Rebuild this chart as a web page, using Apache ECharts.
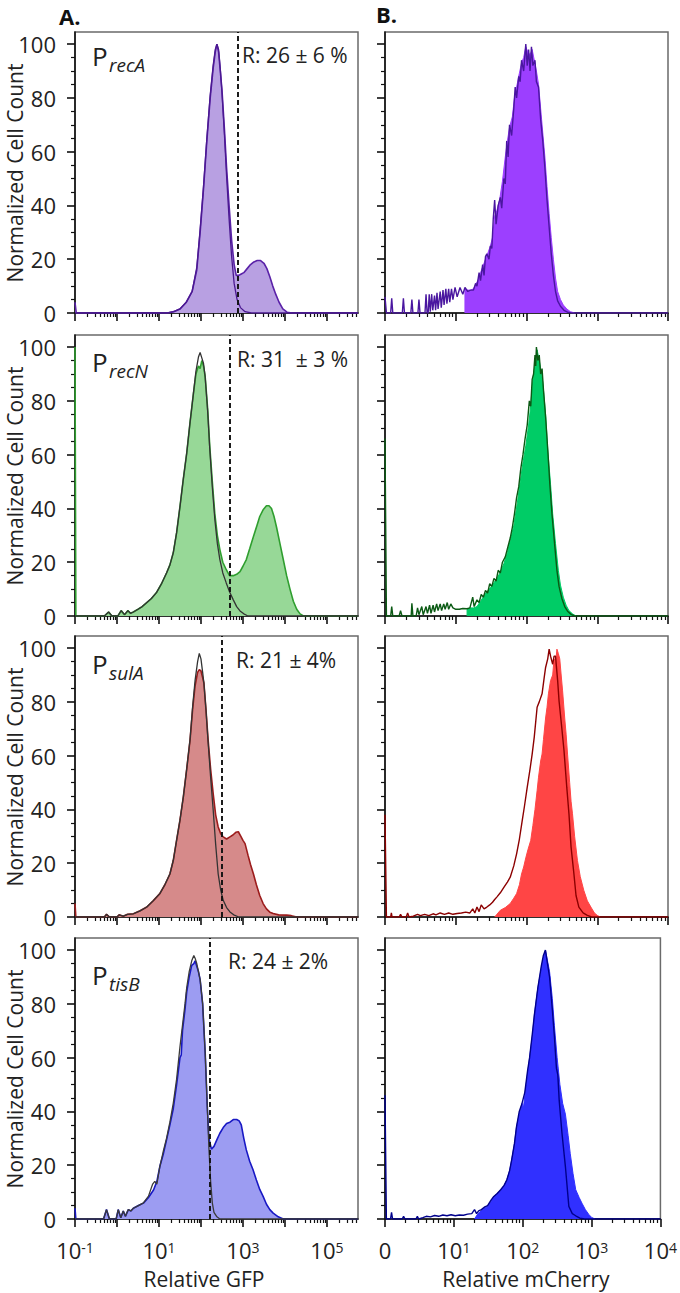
<!DOCTYPE html>
<html><head><meta charset="utf-8">
<script src="https://cdn.jsdelivr.net/npm/echarts@6/dist/echarts.min.js"></script>
<style>html,body{margin:0;padding:0;background:#fff}#c{width:680px;height:1293px}</style>
</head><body><div id="c"></div>
<script>
// ---------------- DATA ----------------
const promoters = ['recA', 'recN', 'sulA', 'tisB'];
const ratioLabels = ['R: 26 \u00b1 6 %', 'R: 31  \u00b1 3 %', 'R: 21 \u00b1 4%', 'R: 24 \u00b1 2%'];
const gateLog = [2.88, 2.69, 2.5, 2.21];            // log10 GFP gate positions
const yTicks = [0, 20, 40, 60, 80, 100];
const yMinorTicks = [5, 10, 15, 25, 30, 35, 45, 50, 55, 65, 70, 75, 85, 90, 95];
const gfpMajorTicks = [-1, 0, 1, 2, 3, 4, 5];
const gfpLabelTicks = [-1, 1, 3, 5];
const cherryMajorTicks = [0, 1, 2, 3, 4];
const cherryLabelTicks = [0, 1, 2, 3, 4];
const minorFactors = [2, 3, 4, 5, 6, 7, 8, 9];

// GFP histograms: [log10 GFP, normalized count]
const gfpRecA_sample = [[-1,4],[-0.97,0],[1.2,0],[1.35,0.5],[1.5,1.5],[1.65,4],[1.79,8],[1.9,16],[1.98,30],[2.06,46],[2.14,64],[2.22,80],[2.29,91],[2.34,97],[2.38,100],[2.42,97],[2.46,90],[2.5,83],[2.56,68],[2.61,54],[2.67,40],[2.73,27],[2.79,18],[2.84,14],[2.9,14],[2.96,14.5],[3.02,15],[3.1,16.5],[3.18,18],[3.26,19],[3.34,19.5],[3.42,19.5],[3.5,18.5],[3.57,16.5],[3.64,13.5],[3.71,10],[3.78,7],[3.86,4],[3.95,1.5],[4.05,0.3],[4.17,0],[5.74,0]];
const gfpRecA_control = [[-1,0],[1.2,0],[1.35,0.5],[1.5,1.5],[1.65,4],[1.79,8],[1.9,17],[1.98,31],[2.06,47],[2.14,65],[2.22,81],[2.29,92],[2.34,98],[2.38,100],[2.42,98],[2.46,91],[2.5,82],[2.56,66],[2.61,51],[2.67,35],[2.73,21],[2.79,11],[2.86,5],[2.94,2],[3.05,0.5],[3.2,0],[5.74,0]];
const gfpRecN_sample = [[-1,100],[-0.98,0],[-0.3,0],[-0.2,1.5],[-0.12,0],[0.02,0],[0.1,2],[0.18,0.5],[0.26,2],[0.32,1],[0.39,1.5],[0.5,2.5],[0.6,3.5],[0.71,5],[0.82,6.5],[0.94,8.7],[1.06,12],[1.18,16],[1.26,19],[1.34,23.5],[1.42,31],[1.5,40.7],[1.58,51],[1.66,60.5],[1.74,72],[1.82,82.7],[1.88,90],[1.94,93],[1.98,92],[2.02,95],[2.06,93],[2.1,89],[2.16,77],[2.21,63],[2.27,50],[2.33,38],[2.39,30],[2.45,24.7],[2.52,20],[2.6,17.3],[2.68,15],[2.77,15],[2.85,15.5],[2.93,16.5],[3.0,18.5],[3.08,21],[3.16,25],[3.25,29.6],[3.33,33.5],[3.4,37],[3.48,39.5],[3.56,41],[3.62,41],[3.68,40],[3.74,37],[3.8,33],[3.88,27],[3.96,21],[4.04,15],[4.12,10],[4.2,5.5],[4.28,2.5],[4.36,0.8],[4.44,0],[5.74,0]];
const gfpRecN_control = [[-1,0],[-0.3,0],[-0.2,1.5],[-0.12,0],[0.02,0],[0.1,2],[0.18,0.5],[0.26,2],[0.32,1],[0.39,1.5],[0.5,2.5],[0.6,3.5],[0.71,5],[0.82,6.5],[0.94,8.7],[1.06,12],[1.18,16],[1.26,19],[1.34,23.5],[1.42,31],[1.5,40.7],[1.58,51],[1.66,60.5],[1.74,72],[1.82,82.7],[1.88,91],[1.94,96.3],[1.98,98],[2.02,96],[2.06,94],[2.1,89],[2.16,76],[2.21,62],[2.27,48],[2.33,36],[2.39,27],[2.45,21],[2.52,16],[2.6,12.4],[2.68,9],[2.77,6],[2.85,3.5],[2.93,1.9],[3.02,0.8],[3.12,0],[5.74,0]];
const gfpSulA_sample = [[-1,5],[-0.98,0],[-0.3,0],[-0.25,1],[-0.18,0],[0.0,0],[0.05,0.8],[0.15,0.3],[0.25,1],[0.39,1.2],[0.55,2.3],[0.71,3.7],[0.86,6],[1.02,8.7],[1.14,12],[1.26,16],[1.34,21],[1.42,28.6],[1.5,36],[1.58,44.7],[1.66,55],[1.74,65.8],[1.8,77],[1.86,86],[1.92,91],[1.96,92],[2.0,91.5],[2.04,89],[2.07,87],[2.12,77],[2.17,66],[2.23,55],[2.29,46],[2.35,38],[2.41,33.5],[2.47,31],[2.53,29.8],[2.61,29],[2.69,29.8],[2.76,30.5],[2.83,31.5],[2.89,31.7],[2.95,30],[3.0,28.5],[3.05,27.3],[3.12,23],[3.18,19.5],[3.25,16],[3.32,12],[3.4,8],[3.48,5],[3.56,3],[3.64,1.8],[3.72,1.3],[3.85,0.8],[4.04,0.7],[4.15,0.5],[4.28,0],[5.74,0]];
const gfpSulA_control = [[-1,0],[-0.3,0],[-0.25,1],[-0.18,0],[0.0,0],[0.05,0.8],[0.15,0.3],[0.25,1],[0.39,1.2],[0.55,2.3],[0.71,3.7],[0.86,6],[1.02,8.7],[1.14,12],[1.26,16],[1.34,21],[1.42,28.6],[1.5,36],[1.58,44.7],[1.66,55],[1.74,66],[1.8,78],[1.86,88],[1.92,95],[1.96,98],[2.0,96],[2.04,91],[2.07,87],[2.12,77],[2.17,65],[2.23,52],[2.29,40],[2.35,27],[2.41,16],[2.47,10],[2.53,6.2],[2.61,3.5],[2.69,1.9],[2.78,0.8],[2.9,0],[5.74,0]];
const gfpTisB_sample = [[-1,4],[-0.98,0],[-0.32,0],[-0.25,3.5],[-0.18,0],[-0.02,0],[0.03,3.5],[0.09,0.5],[0.15,3],[0.2,1],[0.27,3.5],[0.33,3],[0.39,4],[0.51,5],[0.63,5.9],[0.75,8],[0.87,10.8],[0.95,14],[1.02,19.5],[1.1,24],[1.18,29.4],[1.26,35],[1.34,41],[1.42,50],[1.5,60],[1.53,61],[1.56,70],[1.62,78],[1.66,84.4],[1.72,90],[1.78,94.3],[1.83,95],[1.86,96],[1.9,94],[1.94,92],[1.98,89],[2.04,80],[2.1,62],[2.15,42],[2.19,30],[2.25,26],[2.31,27],[2.38,29.5],[2.45,31.9],[2.53,34],[2.61,35.5],[2.69,36],[2.77,37],[2.85,37],[2.91,36.5],[2.96,35],[3.02,30],[3.08,25.7],[3.16,21.5],[3.24,18.3],[3.32,14.5],[3.4,11],[3.48,8.4],[3.56,5.5],[3.64,3.5],[3.72,2.2],[3.84,0.8],[3.96,0],[5.74,0]];
const gfpTisB_control = [[-1,0],[-0.32,0],[-0.25,3.5],[-0.18,0],[-0.02,0],[0.03,3.5],[0.09,0.5],[0.15,3],[0.2,1],[0.27,3.5],[0.33,3],[0.39,4],[0.51,5],[0.63,6],[0.75,8.5],[0.85,13],[0.9,14],[0.95,13],[1.02,19.5],[1.1,25],[1.18,30],[1.26,36],[1.34,43],[1.42,52],[1.5,64],[1.56,72],[1.62,80],[1.66,86],[1.72,92],[1.78,96],[1.83,98],[1.86,97],[1.9,95],[1.94,92],[1.98,89],[2.04,80],[2.1,62],[2.15,42],[2.19,26],[2.23,14],[2.27,6],[2.31,2.5],[2.38,0.8],[2.45,0],[5.74,0]];

// mCherry histograms: [log10 mCherry, normalized count]
const cherryRecA_sample = [[1.13,0],[1.13,9],[1.17,8.5],[1.21,8.5],[1.25,9],[1.29,11],[1.32,12.5],[1.35,15],[1.38,17],[1.42,20],[1.45,22],[1.49,25],[1.52,28],[1.55,36],[1.58,38],[1.62,42],[1.66,49],[1.7,58],[1.73,64],[1.76,69],[1.8,73],[1.83,80],[1.86,84],[1.89,88],[1.93,93],[1.96,95],[1.99,99],[2.02,97],[2.05,96],[2.08,98],[2.11,94],[2.14,90],[2.17,85],[2.2,76],[2.23,67],[2.26,58],[2.29,47],[2.32,37],[2.35,28],[2.38,20],[2.41,13],[2.44,8],[2.48,5],[2.52,3],[2.57,1.5],[2.62,0.5],[2.68,0]];
const cherryRecA_control = [[0.0,6],[0.02,0],[0.08,0],[0.095,5.5],[0.11,0],[0.245,0],[0.26,5.5],[0.275,0],[0.365,0],[0.38,5],[0.395,0],[0.465,0],[0.48,5],[0.495,0],[0.565,0],[0.58,7],[0.595,0],[0.61,0],[0.625,7],[0.64,0.5],[0.66,7],[0.675,1],[0.70,6.5],[0.715,1],[0.735,7.5],[0.75,1.5],[0.78,8],[0.795,2],[0.82,8.5],[0.835,3],[0.86,9],[0.875,3.5],[0.90,9],[0.915,4],[0.94,9],[0.96,5],[0.99,9.5],[1.02,6],[1.06,9.5],[1.10,7],[1.13,9.5],[1.17,8],[1.21,8.5],[1.25,8.5],[1.28,11],[1.3,10],[1.33,15],[1.35,12],[1.38,18],[1.40,14],[1.42,21],[1.44,22],[1.47,20],[1.49,25],[1.51,24],[1.53,35],[1.55,42],[1.57,33],[1.60,40],[1.63,43],[1.65,39],[1.68,50],[1.70,48],[1.72,64],[1.74,58],[1.76,70],[1.79,66],[1.82,76],[1.84,84],[1.86,80],[1.89,88],[1.91,86],[1.93,94],[1.96,90],[1.99,100],[2.01,92],[2.03,98],[2.05,90],[2.07,99],[2.09,92],[2.12,94],[2.14,86],[2.17,84],[2.20,72],[2.23,64],[2.26,54],[2.29,42],[2.32,32],[2.35,22],[2.38,14],[2.41,8],[2.44,4.5],[2.48,2.5],[2.53,1],[2.58,0.3],[2.64,0],[4.0,0]];
const cherryRecN_sample = [[1.16,0],[1.16,2.5],[1.2,3],[1.25,3],[1.3,3.5],[1.35,5.5],[1.4,7.5],[1.44,9],[1.49,10.5],[1.54,12.4],[1.58,14],[1.63,16.2],[1.68,19.5],[1.73,23.6],[1.77,28],[1.82,33.5],[1.87,42],[1.91,49.7],[1.95,57],[1.99,63.3],[2.03,71],[2.06,78.2],[2.08,85],[2.1,90],[2.13,95],[2.15,99],[2.18,95],[2.2,92],[2.23,87],[2.27,75],[2.3,62],[2.34,49],[2.37,38],[2.41,27],[2.45,17],[2.48,11.5],[2.52,7],[2.56,4],[2.6,2],[2.65,0.8],[2.7,0]];
const cherryRecN_control = [[0.0,66],[0.02,0],[0.08,0],[0.095,3.5],[0.11,0],[0.2,0],[0.22,2],[0.24,0],[0.37,0],[0.38,4.7],[0.395,0],[0.44,0],[0.46,3],[0.48,0.5],[0.52,3.5],[0.54,0.5],[0.58,3.5],[0.6,1],[0.63,4],[0.65,1],[0.68,4],[0.7,1.5],[0.73,4.5],[0.75,2],[0.78,4.5],[0.8,2],[0.83,4.5],[0.85,2.5],[0.88,5],[0.9,2.5],[0.93,4.5],[0.96,3],[1.0,2.5],[1.05,2.5],[1.1,2.8],[1.16,2.7],[1.2,3],[1.24,7],[1.26,3.5],[1.3,6],[1.33,5],[1.36,8],[1.39,7],[1.42,9.5],[1.45,8.5],[1.48,12],[1.51,11],[1.54,14],[1.57,13],[1.6,17],[1.63,16],[1.66,20],[1.7,22],[1.73,25],[1.77,29],[1.8,33],[1.83,38],[1.86,44],[1.89,48],[1.92,55],[1.95,60],[1.98,66],[2.01,71],[2.04,80],[2.06,78],[2.08,88],[2.1,90],[2.12,97],[2.13,93],[2.14,100],[2.16,95],[2.18,97],[2.2,90],[2.22,92],[2.24,84],[2.27,74],[2.3,62],[2.33,49],[2.36,38],[2.4,26],[2.43,17],[2.46,11],[2.5,6.5],[2.54,3.5],[2.58,1.8],[2.63,0.6],[2.68,0],[4.0,0]];
const cherrySulA_sample = [[1.55,0],[1.63,2.5],[1.7,3.5],[1.77,5],[1.82,7],[1.86,8.7],[1.9,12],[1.93,16],[1.96,18.6],[1.99,22],[2.02,25],[2.06,28.5],[2.09,34],[2.12,40],[2.15,47],[2.17,52],[2.2,58],[2.22,60.6],[2.24,66],[2.27,74],[2.29,78],[2.31,83],[2.34,87.9],[2.37,90],[2.39,96],[2.41,94],[2.43,99.6],[2.45,98],[2.47,96],[2.49,90],[2.51,84.1],[2.54,74],[2.56,68],[2.58,60.6],[2.61,50],[2.63,43],[2.65,38.4],[2.68,30],[2.72,21],[2.76,15],[2.81,9.9],[2.86,6],[2.91,3.7],[2.96,1.5],[3.0,0.6],[3.04,0]];
const cherrySulA_control = [[0.0,38],[0.02,0],[0.08,0],[0.09,1.5],[0.1,0],[0.2,0],[0.22,1],[0.24,0],[0.3,0],[0.32,1.5],[0.34,0],[0.4,0.3],[0.46,1],[0.5,0.5],[0.56,1],[0.62,0.5],[0.68,1.2],[0.72,0.8],[0.78,1.5],[0.84,1],[0.9,1.5],[0.96,1],[1.02,1.3],[1.08,1.5],[1.14,1.8],[1.2,1.5],[1.24,3],[1.27,1.5],[1.3,3.7],[1.33,2],[1.36,4.5],[1.4,3],[1.44,3.7],[1.48,4.5],[1.52,5.5],[1.55,6.5],[1.58,7.4],[1.63,9],[1.68,11],[1.73,13],[1.77,14.8],[1.82,19],[1.86,23.5],[1.9,29],[1.94,35.9],[1.97,41],[2.01,48.2],[2.05,55],[2.08,60.6],[2.11,67],[2.15,78],[2.18,80],[2.22,83],[2.25,89],[2.27,92.8],[2.3,96],[2.32,99.6],[2.34,97],[2.37,94],[2.39,97],[2.41,97],[2.44,88],[2.46,80.4],[2.5,70],[2.53,61.9],[2.57,48],[2.6,38.4],[2.63,26],[2.67,16.1],[2.7,8],[2.74,3.7],[2.8,1.5],[2.86,0.6],[2.92,0],[4.0,0]];
const cherryTisB_sample = [[1.3,0],[1.35,2],[1.42,3.5],[1.49,4.7],[1.54,6.5],[1.58,8.4],[1.63,9.5],[1.68,10.9],[1.73,12.5],[1.77,14.6],[1.81,18],[1.84,22],[1.88,28],[1.91,34.3],[1.95,39],[1.99,43],[2.01,41.3],[2.05,50],[2.1,59.9],[2.14,68],[2.17,76],[2.22,85.9],[2.27,93.3],[2.3,97],[2.33,100],[2.36,96],[2.39,92],[2.43,82],[2.46,72],[2.5,60],[2.54,50],[2.58,43],[2.62,39],[2.66,31],[2.69,24.4],[2.73,17],[2.77,10.9],[2.82,8],[2.86,5.9],[2.91,3.5],[2.96,1.7],[3.0,0.6],[3.05,0]];
const cherryTisB_control = [[0.0,46],[0.02,0],[0.08,0],[0.095,2.5],[0.11,0],[0.25,0],[0.27,1],[0.29,0],[0.45,0],[0.47,1],[0.49,0],[0.55,0.5],[0.6,1],[0.66,0.8],[0.72,1.3],[0.78,1],[0.84,1.5],[0.9,1.2],[0.96,1.6],[1.02,1.2],[1.08,1.5],[1.14,1.4],[1.2,1.8],[1.26,2],[1.3,3.5],[1.33,2],[1.36,3],[1.4,3.5],[1.45,4.5],[1.49,5],[1.54,7],[1.58,8.4],[1.63,9.5],[1.68,10.9],[1.73,12.5],[1.77,14.6],[1.81,18],[1.84,22],[1.88,28],[1.91,34.3],[1.95,40],[1.99,43],[2.03,47],[2.07,55],[2.1,60],[2.14,69],[2.17,76],[2.22,86],[2.27,94],[2.3,98],[2.33,100],[2.36,95],[2.39,90],[2.43,78],[2.46,68],[2.49,56],[2.51,53.6],[2.53,44],[2.57,32],[2.62,19.5],[2.67,4.7],[2.72,2],[2.77,1.2],[2.83,0.3],[2.9,0],[4.0,0]];

const gfpSamples = [gfpRecA_sample, gfpRecN_sample, gfpSulA_sample, gfpTisB_sample];
const gfpControls = [gfpRecA_control, gfpRecN_control, gfpSulA_control, gfpTisB_control];
const cherrySamples = [cherryRecA_sample, cherryRecN_sample, cherrySulA_sample, cherryTisB_sample];
const cherryControls = [cherryRecA_control, cherryRecN_control, cherrySulA_control, cherryTisB_control];

// ---------------- STYLE / LAYOUT ----------------
const FONT = '"Open Sans", "DejaVu Sans", sans-serif';
const leftFill = ['#b8a0e2', '#97d897', '#d68a8a', '#9c9cf2'];
const leftLine = ['#5a22a8', '#2f9e2f', '#9c1c1c', '#1818c4'];
const leftCtrl = ['#4a1890', '#333333', '#333333', '#3a3a3a'];
const rightFill = ['#9c3fff', '#00cc66', '#ff4545', '#3030ff'];
const rightLine = ['#4a16a0', '#0b5a14', '#8c0000', '#00008c'];
const tops = [32, 335, 636, 938];
const H = 281, W = 283;
const GFP_MIN = -1, GFP_MAX = 5.74, CH_MIN = 0, CH_MAX = 4;

function minorLog(lo, hi) {
  const out = [];
  for (let d = Math.floor(lo); d < hi; d++) {
    minorFactors.forEach(f => { const v = d + Math.log10(f); if (v > lo && v < hi) out.push(v); });
  }
  return out;
}

const grids = [], xAxes = [], yAxes = [], series = [];
const supRich = { s: { fontSize: 14, lineHeight: 12, fontFamily: FONT, color: '#222', verticalAlign: 'top', padding: [0, 0, 6, 0] } };

for (let i = 0; i < 4; i++) {
  for (let side = 0; side < 2; side++) {
    const g = grids.length;
    const isLeft = side === 0;
    grids.push({ left: isLeft ? 75 : 385, top: tops[i], width: W, height: H, show: true,
      borderColor: '#6a6a6a', borderWidth: 1.5, backgroundColor: 'transparent' });
    const xmin = isLeft ? GFP_MIN : CH_MIN, xmax = isLeft ? GFP_MAX : CH_MAX;
    const majors = isLeft ? gfpMajorTicks : cherryMajorTicks;
    const labs = isLeft ? gfpLabelTicks : cherryLabelTicks;
    xAxes.push({ type: 'value', gridIndex: g, min: xmin, max: xmax, position: 'bottom',
      axisLine: { show: true, onZero: false, lineStyle: { color: '#111', width: 1.6 } },
      axisTick: { show: true, customValues: majors, length: 8, lineStyle: { color: '#111', width: 1.6 } },
      axisLabel: { show: i === 3, customValues: labs, margin: 21, fontSize: 22, lineHeight: 20, fontFamily: FONT, color: '#222',
        formatter: v => (!isLeft && Math.abs(v) < 1e-9) ? '0' : '10{s|' + String(Math.round(v)) + '}',
        rich: supRich },
      splitLine: { show: false } });
    xAxes.push({ type: 'value', gridIndex: g, min: xmin, max: xmax, position: 'bottom',
      axisLine: { show: false, onZero: false },
      axisTick: { show: true, customValues: minorLog(xmin, xmax), length: 4, lineStyle: { color: '#111', width: 1.2 } },
      axisLabel: { show: false }, splitLine: { show: false } });
    yAxes.push({ type: 'value', gridIndex: g, min: 0, max: 104.5, position: 'left',
      axisLine: { show: true, onZero: false, lineStyle: { color: '#111', width: 1.6 } },
      axisTick: { show: true, customValues: yTicks, length: 8, lineStyle: { color: '#111', width: 1.6 } },
      axisLabel: { show: isLeft, customValues: yTicks, margin: 19, fontSize: 22, fontFamily: FONT, color: '#222' },
      splitLine: { show: false } });
    yAxes.push({ type: 'value', gridIndex: g, min: 0, max: 104.5, position: 'left',
      axisLine: { show: false, onZero: false },
      axisTick: { show: true, customValues: yMinorTicks, length: 4, lineStyle: { color: '#111', width: 1.2 } },
      axisLabel: { show: false }, splitLine: { show: false } });

    const sample = isLeft ? gfpSamples[i] : cherrySamples[i];
    const control = isLeft ? gfpControls[i] : cherryControls[i];
    const s1 = { type: 'line', xAxisIndex: 2 * g, yAxisIndex: 2 * g, data: sample, symbol: 'none', z: 2,
      lineStyle: { color: isLeft ? leftLine[i] : rightFill[i], width: isLeft ? 1.6 : 1 },
      areaStyle: { color: isLeft ? leftFill[i] : rightFill[i], opacity: 1 } };
    if (isLeft) {
      s1.markLine = { silent: true, symbol: ['none', 'none'], label: { show: false }, animation: false,
        lineStyle: { color: '#111', type: [5, 3], width: 1.9 }, data: [{ xAxis: gateLog[i] }] };
    }
    series.push(s1);
    series.push({ type: 'line', xAxisIndex: 2 * g, yAxisIndex: 2 * g, data: control, symbol: 'none', z: 3,
      lineStyle: { color: isLeft ? leftCtrl[i] : rightLine[i], width: isLeft ? 1.3 : 1.4 } });
  }
}

// ---------------- TEXT ----------------
const graphic = [
  { type: 'text', x: 59, y: 16, style: { text: 'A.', font: 'bold 22px ' + FONT, fill: '#111', align: 'left', verticalAlign: 'middle' } },
  { type: 'text', x: 376, y: 14, style: { text: 'B.', font: 'bold 22px ' + FONT, fill: '#111', align: 'left', verticalAlign: 'middle' } },
  { type: 'text', x: 204, y: 1279, style: { text: 'Relative GFP', font: '21px ' + FONT, fill: '#222', align: 'center', verticalAlign: 'middle' } },
  { type: 'text', x: 526, y: 1279, style: { text: 'Relative mCherry', font: '21px ' + FONT, fill: '#222', align: 'center', verticalAlign: 'middle' } }
];
const pCapCenter = [56, 362, 664, 975];
const rCenter = [55, 359, 660, 961];
const rLeft = [242, 237, 236, 228];
for (let i = 0; i < 4; i++) {
  graphic.push({ type: 'text', x: 15, y: tops[i] + 141, rotation: Math.PI / 2,
    style: { text: 'Normalized Cell Count', font: '21px ' + FONT, fill: '#222', align: 'center', verticalAlign: 'middle' } });
  graphic.push({ type: 'text', x: 92, y: pCapCenter[i], style: { text: 'P', font: '26px ' + FONT, fill: '#222', align: 'left', verticalAlign: 'middle' } });
  graphic.push({ type: 'text', x: 109, y: pCapCenter[i] + 9, style: { text: promoters[i], font: 'italic 19px ' + FONT, fill: '#222', align: 'left', verticalAlign: 'middle' } });
  graphic.push({ type: 'text', x: rLeft[i], y: rCenter[i], style: { text: ratioLabels[i], font: '21px ' + FONT, fill: '#222', align: 'left', verticalAlign: 'middle' } });
}

const chart = echarts.init(document.getElementById('c'), null, { renderer: 'svg' });
chart.setOption({ animation: false, backgroundColor: '#fff', grid: grids, xAxis: xAxes, yAxis: yAxes, series: series, graphic: graphic });
</script>
</body></html>
